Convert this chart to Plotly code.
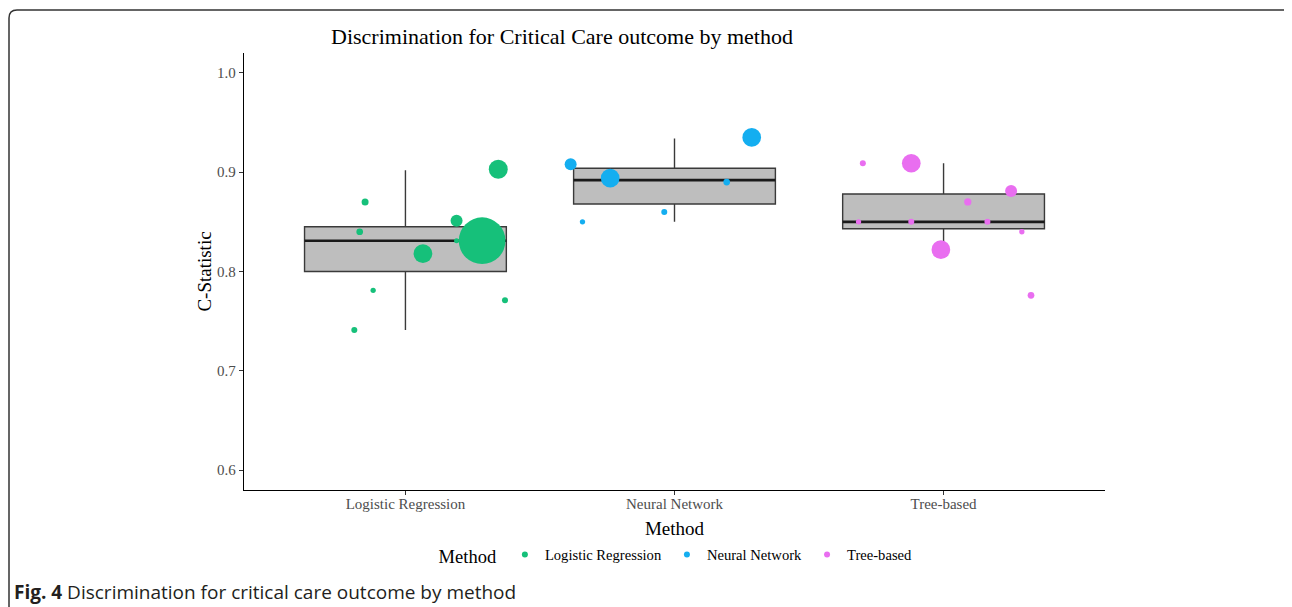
import plotly.graph_objects as go

# categories / box statistics
methods = ["Logistic Regression", "Neural Network", "Tree-based"]
box_q1 = [0.800, 0.868, 0.843]
box_median = [0.831, 0.892, 0.850]
box_q3 = [0.845, 0.904, 0.878]
box_lower = [0.741, 0.850, 0.822]
box_upper = [0.902, 0.934, 0.909]

# individual studies: c-statistic, jitter offset from category, relative study size
lr_cstat = [0.741, 0.870, 0.840, 0.781, 0.818, 0.851, 0.831, 0.831, 0.903, 0.771]
lr_jitter = [-0.19, -0.15, -0.17, -0.12, 0.065, 0.19, 0.19, 0.285, 0.345, 0.37]
lr_size = [36, 49, 45, 28, 350, 144, 25, 2180, 360, 36]

nn_cstat = [0.908, 0.894, 0.850, 0.860, 0.890, 0.935]
nn_jitter = [-0.386, -0.239, -0.342, -0.038, 0.194, 0.287]
nn_size = [144, 350, 28, 36, 45, 350]

tb_cstat = [0.909, 0.909, 0.850, 0.850, 0.870, 0.850, 0.881, 0.840, 0.822, 0.776]
tb_jitter = [-0.300, -0.120, -0.316, -0.120, 0.090, 0.163, 0.251, 0.291, -0.010, 0.325]
tb_size = [36, 350, 28, 36, 53, 36, 144, 28, 350, 45]

colors = ['#16C07A', '#14AEF0', '#E96EF0']
serif = 'Liberation Serif'

# page body has an 8px margin; positions below are in window pixels
OFF = 8
L, R, T, B = 244, 1105, 53, 490
W, H = 1292 - OFF, 607 - OFF


def fx(px):
    return (px - L) / (R - L)


def fy(py):
    return (B - py) / (B - T)


fig = go.Figure()

xpos = [1, 2, 3]
# boxes
fig.add_trace(go.Box(
    x=xpos, q1=box_q1, median=box_median, q3=box_q3,
    lowerfence=box_lower, upperfence=box_upper,
    width=0.75, whiskerwidth=0, fillcolor='#BEBEBE',
    line=dict(color='#3a3a3a', width=1.4),
    showlegend=False, hoverinfo='skip',
))
# thicker median line (zero-height box)
fig.add_trace(go.Box(
    x=xpos, q1=box_median, median=box_median, q3=box_median,
    lowerfence=box_median, upperfence=box_median,
    width=0.75, whiskerwidth=0, fillcolor='#1a1a1a',
    line=dict(color='#1a1a1a', width=2.6),
    showlegend=False, hoverinfo='skip',
))

groups = [
    (lr_cstat, lr_jitter, lr_size),
    (nn_cstat, nn_jitter, nn_size),
    (tb_cstat, tb_jitter, tb_size),
]
for i, (cs, jit, sz) in enumerate(groups):
    fig.add_trace(go.Scatter(
        x=[xpos[i] + j for j in jit], y=cs, mode='markers',
        marker=dict(color=colors[i], size=sz, sizemode='area', sizeref=2,
                    opacity=1, line=dict(width=0)),
        name=methods[i], legendgroup=methods[i], showlegend=False,
    ))
    # legend entry with a small fixed dot
    fig.add_trace(go.Scatter(
        x=[None], y=[None], mode='markers',
        marker=dict(color=colors[i], size=6),
        name=methods[i], legendgroup=methods[i], showlegend=True,
    ))

# rounded frame around the figure
path = ("M {x0},{y0} L {x0},{y1} Q {x0},{y2} {x3},{y2} L {x4},{y2} Q {x5},{y2} {x5},{y6}"
        .format(x0=fx(9), y0=fy(620), y1=fy(18), y2=fy(10), x3=fx(17),
                x4=fx(1286), x5=fx(1291), y6=fy(15)))

fig.update_layout(
    width=W, height=H,
    margin=dict(l=L - OFF, r=1292 - R, t=T - OFF, b=607 - B),
    paper_bgcolor='white', plot_bgcolor='white',
    font=dict(family=serif, color='black'),
    title=dict(text='Discrimination for Critical Care outcome by method',
               x=(562 - OFF) / W, xanchor='center', y=1 - (36 - OFF) / H, yanchor='middle',
               font=dict(family=serif, size=22, color='black')),
    xaxis=dict(range=[0.4, 3.6], tickvals=xpos, ticktext=methods,
               showgrid=False, zeroline=False, showline=True, linecolor='black',
               linewidth=1.3, ticks='outside', ticklen=4, tickcolor='#333333',
               ticklabelstandoff=-4,
               tickfont=dict(family=serif, size=15, color='#4D4D4D'),
               title=dict(text='Method', standoff=10,
                          font=dict(family=serif, size=19, color='black'))),
    yaxis=dict(range=[0.58, 1.02], tickvals=[0.6, 0.7, 0.8, 0.9, 1.0],
               ticktext=['0.6', '0.7', '0.8', '0.9', '1.0'],
               showgrid=False, zeroline=False, showline=True, linecolor='black',
               linewidth=1.3, ticks='outside', ticklen=4, tickcolor='#333333',
               tickfont=dict(family=serif, size=15, color='#4D4D4D'),
               title=dict(text='C-Statistic', standoff=0,
                          font=dict(family=serif, size=19, color='black'))),
    legend=dict(orientation='h', x=0.503, xanchor='center', y=fy(556), yanchor='middle',
                title=dict(text='Method', font=dict(family=serif, size=18.5, color='black')),
                font=dict(family=serif, size=14.6, color='black'), itemwidth=30),
    shapes=[dict(type='path', path=path, xref='paper', yref='paper',
                 line=dict(color='#333333', width=1.5), layer='above')],
    annotations=[dict(text='<b>Fig. 4</b> Discrimination for critical care outcome by method',
                      x=fx(12), y=fy(592), xref='paper', yref='paper',
                      xanchor='left', yanchor='middle', showarrow=False,
                      font=dict(family='Open Sans', size=19, color='#231F20'))],
)

fig.write_html("out.html")
